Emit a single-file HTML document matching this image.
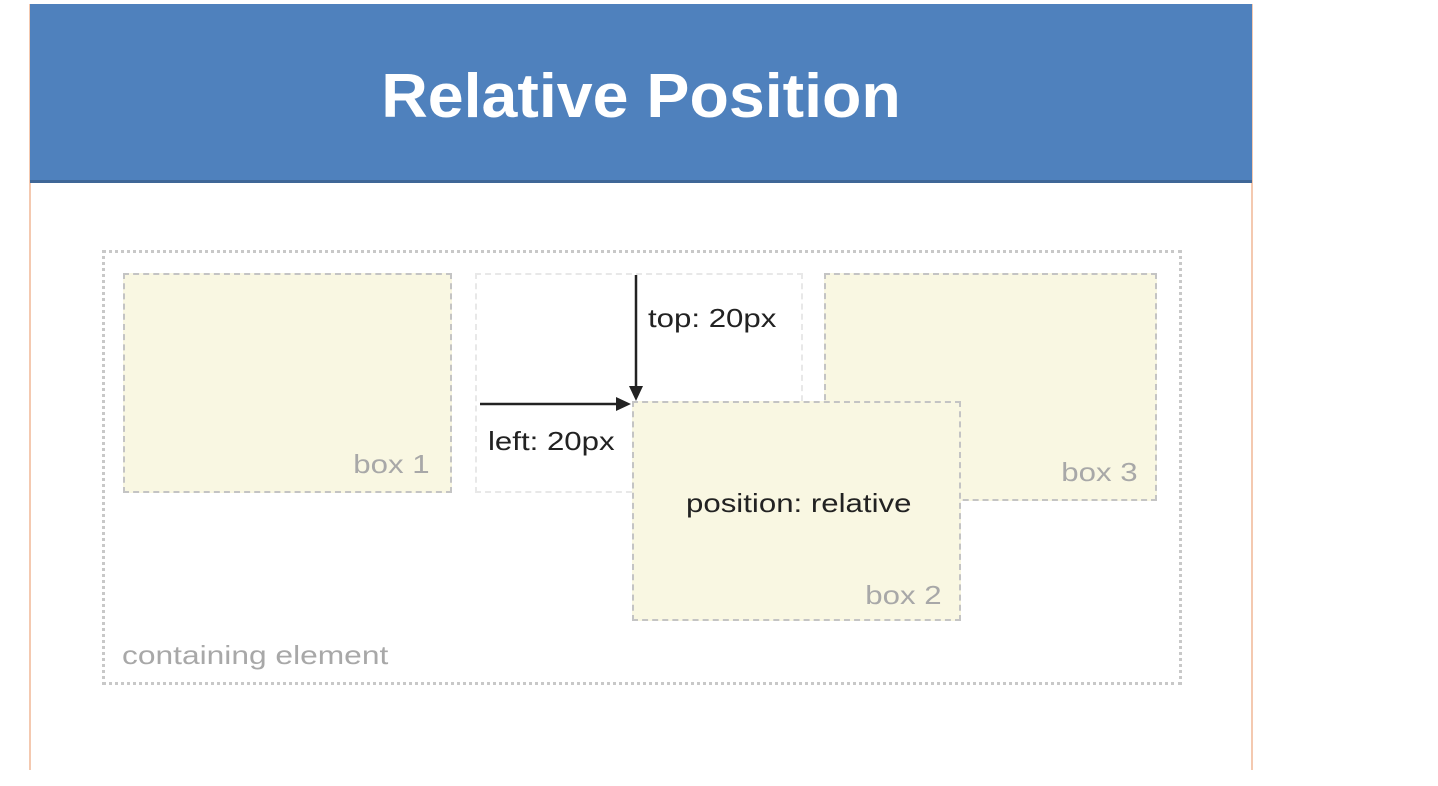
<!DOCTYPE html>
<html><head><meta charset="utf-8"><style>
body{margin:0;width:1438px;height:786px;background:#fff;position:relative;overflow:hidden;font-family:"Liberation Sans",sans-serif}
.a{position:absolute;box-sizing:border-box}
.bx{background:#f9f7e2;border:2px dashed #c4c4c4}
.t{position:absolute;font-size:26px;white-space:nowrap;line-height:1;transform:scaleX(1.2);transform-origin:left top}
.r{transform-origin:right top}
.g{color:#a8a8a8}
.d{color:#222}
</style></head><body>
<div class="a" style="left:29px;top:4px;width:1224px;height:766px;border-left:2px solid #f4c9b0;border-right:2px solid #f4c9b0"></div>
<div class="a" style="left:30px;top:4px;width:1222px;height:179px;background:#4f81bd;border-bottom:3px solid #3f6797"></div>
<div class="a" style="left:30px;width:1222px;top:66px;text-align:center;color:#fff;font-weight:bold;font-size:62px;line-height:1;transform:scaleX(1.04)">Relative Position</div>
<div class="a" style="left:102px;top:250px;width:1080px;height:435px;border:3px dotted #c8c8c8"></div>
<div class="a bx" style="left:123px;top:273px;width:329px;height:220px"></div>
<div class="a" style="left:475px;top:273px;width:328px;height:220px;border:2px dashed #e8e8e8"></div>
<div class="a bx" style="left:824px;top:273px;width:333px;height:228px"></div>
<div class="a bx" style="left:632px;top:401px;width:329px;height:220px"></div>
<div class="t g r" style="right:1008px;top:451px">box 1</div>
<div class="t g r" style="right:300px;top:459px">box 3</div>
<div class="t g r" style="right:496px;top:582px">box 2</div>
<div class="t d" style="left:686px;top:490px">position: relative</div>
<div class="t d" style="left:648px;top:305px">top: 20px</div>
<div class="t d" style="left:488px;top:428px">left: 20px</div>
<div class="t g" style="left:122px;top:642px;transform:scaleX(1.22)">containing element</div>
<svg class="a" style="left:0;top:0" width="1438" height="786">
<line x1="636" y1="275" x2="636" y2="390" stroke="#222" stroke-width="2.5"/>
<polygon points="629,386 643,386 636,401" fill="#222"/>
<line x1="480" y1="404" x2="620" y2="404" stroke="#222" stroke-width="2.5"/>
<polygon points="616,397 616,411 631,404" fill="#222"/>
</svg>
</body></html>
